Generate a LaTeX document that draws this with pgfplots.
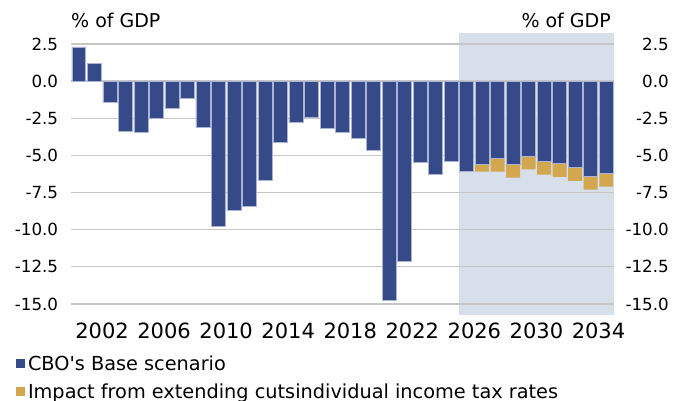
\documentclass[border=0pt]{standalone}
\usepackage{fontspec}
\setmainfont{DejaVu Sans}
\usepackage{pgfplots}
\usepackage{pgfplotstable}
\pgfplotsset{compat=1.18}

\definecolor{cbo}{HTML}{364A89}
\definecolor{ext}{HTML}{D2A750}
\definecolor{shade}{HTML}{D6DFEA}
\definecolor{gridc}{HTML}{C6C6C6}
\definecolor{edge}{HTML}{A9B3D2}

% federal balance, % of GDP; ext = extra deficit from extending the tax cuts
\pgfplotstableread{
year  base    ext
2000  2.31    0
2001  1.20    0
2002  -1.45   0
2003  -3.36   0
2004  -3.45   0
2005  -2.50   0
2006  -1.83   0
2007  -1.14   0
2008  -3.11   0
2009  -9.80   0
2010  -8.72   0
2011  -8.43   0
2012  -6.70   0
2013  -4.12   0
2014  -2.80   0
2015  -2.46   0
2016  -3.18   0
2017  -3.45   0
2018  -3.85   0
2019  -4.64   0
2020  -14.73  0
2021  -12.11  0
2022  -5.46   0
2023  -6.27   0
2024  -5.38   0
2025  -6.05   0
2026  -5.58   -0.52
2027  -5.20   -0.90
2028  -5.63   -0.87
2029  -5.04   -0.90
2030  -5.40   -0.90
2031  -5.56   -0.89
2032  -5.80   -0.92
2033  -6.39   -0.92
2034  -6.23   -0.88
}\deficit

\pgfplotsset{
  frame/.style={
    scale only axis, width=543pt, height=282.3pt,
    at={(71pt,85.9pt)}, anchor=south west,
    xmin=1999.5, xmax=2034.5, ymin=-15.75, ymax=3.25,
    enlargelimits=false,
    axis line style={draw=none}, major tick length=0pt,
    ytick={-15,-12.5,-10,-7.5,-5,-2.5,0,2.5},
    yticklabels={-15.0,-12.5,-10.0,-7.5,-5.0,-2.5,0.0,2.5},
    yticklabel style={font=\fontsize{16.7}{20}\selectfont, inner sep=0pt, anchor=east},
  },
}

\begin{document}
\begin{tikzpicture}[x=1pt,y=1pt]
\useasboundingbox (0,0) rectangle (673,401);

% projection period shading and right-hand labels
\begin{axis}[frame,
  xtick=\empty,
  yticklabel pos=right,
  yticklabel style={xshift=55pt},
]
\addplot[fill=shade, draw=none] coordinates {(2024.5,-15.75) (2024.5,3.25) (2034.5,3.25) (2034.5,-15.75)};
\end{axis}

\begin{axis}[frame, name=main,
  ybar stacked, bar width=0.9,
  ymajorgrids, grid style={gridc, line width=1.2pt},
  yticklabel style={xshift=-12.7pt},
  xtick={2001.5,2005.5,2009.5,2013.5,2017.5,2021.5,2025.5,2029.5,2033.5},
  xticklabels={2002,2006,2010,2014,2018,2022,2026,2030,2034},
  xticklabel style={font=\fontsize{21}{24}\selectfont, inner sep=0pt, anchor=north, yshift=-8pt},
  legend style={at={(-0.1022,-0.1452)}, anchor=north west, draw=none, fill=none,
    inner sep=0pt, outer sep=0pt, font=\fontsize{19.3}{22}\selectfont,
    row sep=11.8pt, column sep=3.5pt, nodes={inner sep=0pt}, cells={anchor=west}},
  legend image code/.code={\fill[#1, draw=none] (0pt,-4pt) rectangle (9pt,5pt);},
]
\addplot[fill=cbo, draw=edge, line width=0.5pt] table[x=year, y=base] {\deficit};
\addplot[fill=ext, draw=none] table[x=year, y=ext] {\deficit};
\legend{CBO\textquotesingle s Base scenario, Impact from extending cutsindividual income tax rates}
\end{axis}

\node[anchor=base west, inner sep=0pt, font=\fontsize{19}{22}\selectfont] at ([yshift=4.8pt]main.north west) {\% of GDP};
\node[anchor=base east, inner sep=0pt, font=\fontsize{19}{22}\selectfont] at ([xshift=-3pt, yshift=4.8pt]main.north east) {\% of GDP};
\end{tikzpicture}
\end{document}
